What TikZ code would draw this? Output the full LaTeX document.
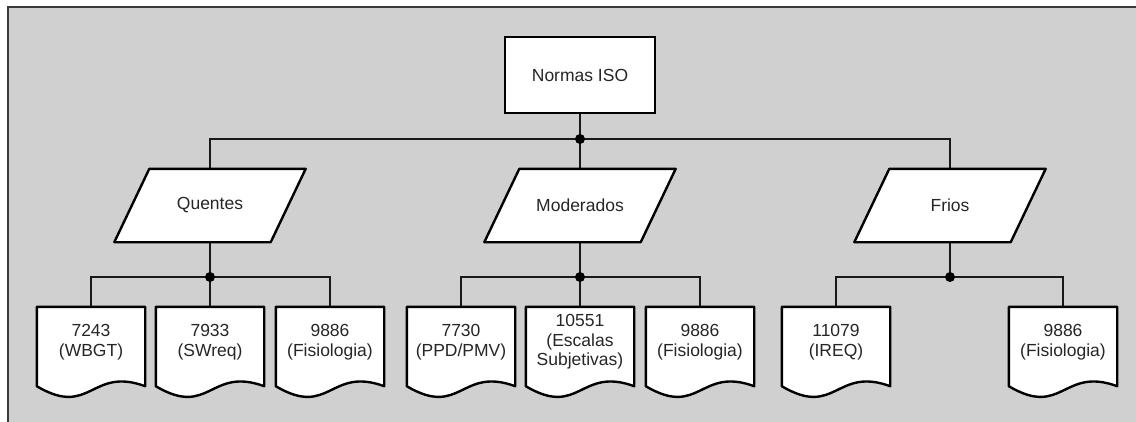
\documentclass[tikz,border=0pt]{standalone}
\usepackage{fontspec}
\setmainfont{Liberation Sans}
\usetikzlibrary{calc}
\pgfdeclarelayer{bg}
\pgfdeclarelayer{shapes}
\pgfsetlayers{bg,shapes,main}
\definecolor{bggray}{HTML}{D0D0D0}
\definecolor{edge}{HTML}{3A3A3A}
\tikzset{
  txt/.style={font=\fontsize{17.5}{19.5}\selectfont, text=black!85, align=center, inner sep=0pt},
  topbox/.style={txt, draw=black, line width=2.4pt, fill=white, minimum width=150pt, minimum height=76pt},
  parbox/.style={txt, minimum width=191pt, minimum height=73pt},
  docbox/.style={txt, minimum width=108pt, minimum height=70pt},
  outline/.style={draw=black, line width=2.4pt, fill=white, line join=round},
  conn/.style={draw=black!90, line width=1.5pt},
  dot/.style={circle, fill=black, inner sep=0pt, minimum size=10pt},
}
\newcommand\myparshape[1]{%
  \begin{pgfonlayer}{shapes}
  \path[outline] ([xshift=35pt]#1.north west) -- (#1.north east) -- ([xshift=-35pt]#1.south east) -- (#1.south west) -- cycle;
  \end{pgfonlayer}}
\newcommand\mydocshape[1]{%
  \begin{pgfonlayer}{shapes}
  \path[outline] (#1.north west) -- ([yshift=-9pt]#1.south west)
    .. controls ([xshift=54pt,yshift=-41pt]#1.south west) and ([xshift=54pt,yshift=11pt]#1.south west) .. ([yshift=-9pt]#1.south east)
    -- (#1.north east) -- cycle;
  \end{pgfonlayer}}
\begin{document}
\begin{tikzpicture}[x=1pt,y=-1pt]
\useasboundingbox (0,0) rectangle (1136,421);
\clip (0,0) rectangle (1136,421);
\begin{pgfonlayer}{bg}
  \fill[white] (0,0) rectangle (1136,421);
  \fill[bggray] (8,7) rectangle (1150,440);
  \draw[edge, line width=2pt] (8,440) -- (8,7) -- (1150,7);
\end{pgfonlayer}

\node[topbox] (iso) at (580,75) {Normas ISO};

\node[parbox] (q) at (210,205.5) {Quentes};
\node[parbox] (m) at (580,205.5) {Moderados};
\node[parbox] (f) at (950,205.5) {Frios};
\myparshape{q}\myparshape{m}\myparshape{f}

\coordinate (j0) at (580,139);
\coordinate (jq) at (210,277);
\coordinate (jm) at (580,277);
\coordinate (jf) at (950,277);

\node[docbox] (q1) at (91,342) {7243\\(WBGT)};
\node[docbox] (q2) at (210,342) {7933\\(SWreq)};
\node[docbox] (q3) at (330,342) {9886\\(Fisiologia)};
\node[docbox] (m1) at (461,342) {7730\\(PPD/PMV)};
\node[docbox] (m2) at (580,342) {10551\\(Escalas\\Subjetivas)};
\node[docbox] (m3) at (700,342) {9886\\(Fisiologia)};
\node[docbox] (f1) at (836,342) {11079\\(IREQ)};
\node[docbox] (f2) at (1063,342) {9886\\(Fisiologia)};
\mydocshape{q1}\mydocshape{q2}\mydocshape{q3}
\mydocshape{m1}\mydocshape{m2}\mydocshape{m3}
\mydocshape{f1}\mydocshape{f2}

\begin{pgfonlayer}{bg}
\draw[conn] (iso.south) -- (j0);
\draw[conn] (j0) -| (q.north);
\draw[conn] (j0) -| (f.north);
\draw[conn] (j0) -- (m.north);
\draw[conn] (q.south) -- (jq);
\draw[conn] (m.south) -- (jm);
\draw[conn] (f.south) -- (jf);
\draw[conn] (jq) -| (q1.north);
\draw[conn] (jq) -| (q3.north);
\draw[conn] (jq) -- (q2.north);
\draw[conn] (jm) -| (m1.north);
\draw[conn] (jm) -| (m3.north);
\draw[conn] (jm) -- (m2.north);
\draw[conn] (jf) -| (f1.north);
\draw[conn] (jf) -| (f2.north);
\end{pgfonlayer}
\node[dot] (d0) at (j0) {};
\node[dot] (dq) at (jq) {};
\node[dot] (dm) at (jm) {};
\node[dot] (df) at (jf) {};
\end{tikzpicture}
\end{document}
